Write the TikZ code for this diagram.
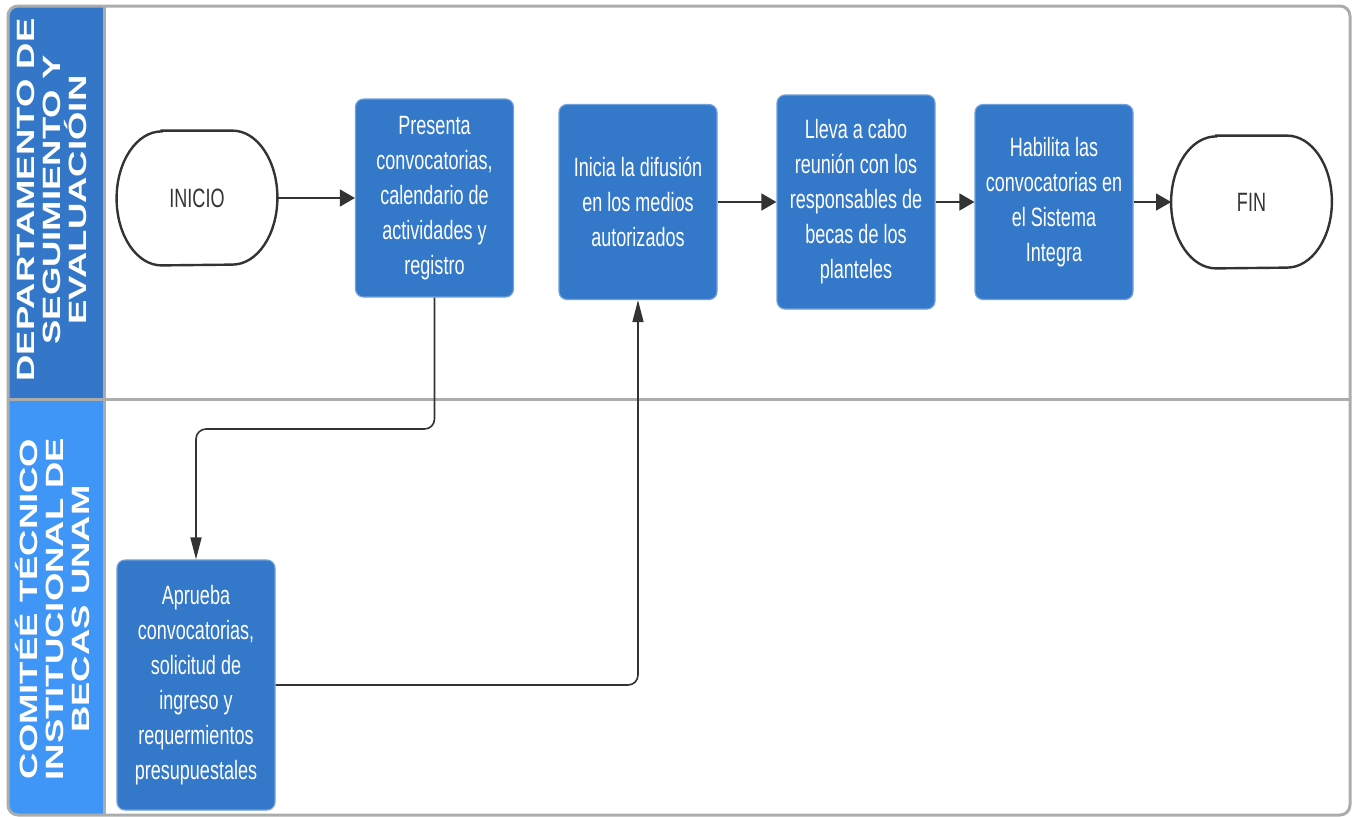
\documentclass[tikz,border=0pt]{standalone}
\usepackage{fontspec}
\setmainfont{Liberation Sans}
\newfontfamily\boxfont[FakeStretch=0.68]{Liberation Sans}
\newfontfamily\lanefont[FakeStretch=1.46]{Liberation Sans}
\usetikzlibrary{arrows.meta}

\definecolor{boxblue}{RGB}{52,120,202}
\definecolor{laneblue}{RGB}{52,119,201}
\definecolor{lanelight}{RGB}{64,150,246}
\definecolor{framegray}{RGB}{172,172,172}
\definecolor{linegray}{RGB}{51,51,51}

\tikzset{
  procbox/.style={rectangle, rounded corners=4pt, fill=boxblue, draw=boxblue!70!white,
    line width=0.6pt, text=white, align=center, inner sep=0pt, minimum width=79pt,
    font=\boxfont\fontsize{13.25}{17.5}\selectfont},
  termbox/.style={rectangle, inner sep=0pt, minimum width=80pt, text=linegray,
    font=\boxfont\fontsize{13.25}{17.5}\selectfont},
  termline/.style={draw=linegray, line width=1.2pt},
  flow/.style={draw=linegray, line width=0.8pt, -{Triangle[length=7.5pt,width=8.5pt]}},
  flowv/.style={flow, -{Triangle[length=11pt,width=5.5pt]}},
  lanetext/.style={rotate=90, text=white, align=center,
    font=\lanefont\bfseries\fontsize{12.5}{13}\selectfont},
}

% outline of a terminal node: straight top and bottom, half ellipses at the ends
\newcommand\termoutline[2]{%
  \draw[termline] ([xshift=22.5pt]#1.north west) -- ([xshift=-22.5pt]#1.north east)
    arc[start angle=90, end angle=-90, x radius=22.5pt, y radius=#2]
    -- ([xshift=22.5pt]#1.south west)
    arc[start angle=270, end angle=90, x radius=22.5pt, y radius=#2] -- cycle;}

\begin{document}
\begin{tikzpicture}[x=0.5pt, y=-0.5pt]
  \useasboundingbox (0,0) rectangle (1357,816);
  \def\xl{8} \def\xr{1350}
  \def\yt{6} \def\yb{815}
  \def\xh{104} \def\ys{399}

  % lanes
  \begin{scope}
    \path[clip, rounded corners=5pt] (\xl,\yt) rectangle (\xr,\yb);
    \fill[laneblue] (\xl,\yt) rectangle (\xh,\ys);
    \fill[lanelight] (\xl,\ys) rectangle (\xh,\yb);
  \end{scope}
  \draw[framegray, line width=1.5pt, rounded corners=5pt] (\xl,\yt) rectangle (\xr,\yb);
  \draw[framegray, line width=1.5pt] (\xl,\ys) -- (\xr,\ys);
  \draw[framegray, line width=1.5pt] (\xh,\yt) -- (\xh,\yb);

  \node[lanetext] (lanedse) at (52,200) {DEPARTAMENTO DE\\SEGUIMIENTO Y\\EVALUACIÓIN};
  \node[lanetext] (lanectib) at (53,609) {COMITÉÉ TÉCNICO\\INSTITUCIONAL DE\\BECAS UNAM};

  % steps
  \node[termbox, minimum height=67pt] (inicio) at (197,198) {INICIO};
  \termoutline{inicio}{33.5pt}
  \node[procbox, minimum height=99pt] (presenta) at (434.5,198)
    {Presenta\\convocatorias,\\calendario de\\actividades y\\registro};
  \node[procbox, minimum height=97.5pt] (inicia) at (638,202)
    {Inicia la difusión\\en los medios\\autorizados};
  \node[procbox, minimum height=107pt] (lleva) at (856,202)
    {Lleva a cabo\\reunión con los\\responsables de\\becas de los\\planteles};
  \node[procbox, minimum height=97.5pt] (habilita) at (1054,202)
    {Habilita las\\convocatorias en\\el Sistema\\Integra};
  \node[termbox, minimum height=66pt] (fin) at (1251.5,202) {FIN};
  \termoutline{fin}{33pt}
  \node[procbox, minimum height=125pt] (aprueba) at (196,685)
    {Aprueba\\convocatorias,\\solicitud de\\ingreso y\\requermientos\\presupuestales};

  % connectors
  \coordinate (bend) at (0,429);
  \draw[flow] (inicio) -- (presenta);
  \draw[flowv, rounded corners=5pt] (presenta.south) |- (aprueba.north |- bend) -- (aprueba.north);
  \draw[flowv, rounded corners=5pt] (aprueba.east) -| (inicia.south);
  \draw[flow] (inicia) -- (lleva);
  \draw[flow] (lleva) -- (habilita);
  \draw[flow] (habilita) -- (fin);
\end{tikzpicture}
\end{document}
